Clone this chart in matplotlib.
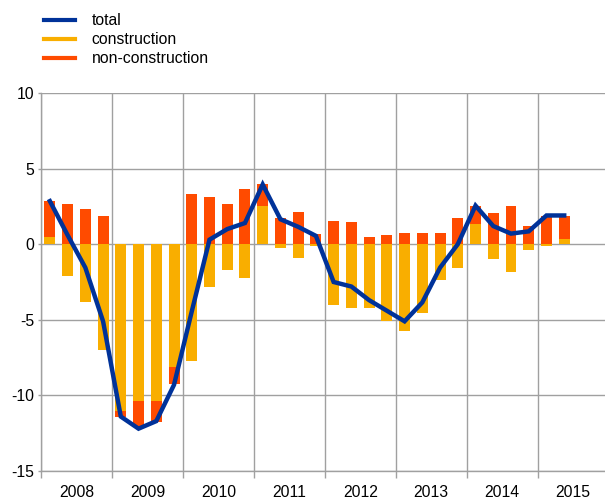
import numpy as np
import matplotlib
matplotlib.use("Agg")
import matplotlib.pyplot as plt
from matplotlib.lines import Line2D

plt.rcParams['font.family'] = ['Liberation Sans', 'DejaVu Sans']

years = ['2008', '2009', '2010', '2011', '2012', '2013', '2014', '2015']
construction = [0.5, -2.1, -3.85, -7.0, -11.05, -10.4, -10.4, -8.15,
                -7.75, -2.8, -1.7, -2.25, 2.5, -0.25, -0.9, -0.15,
                -4.0, -4.2, -4.2, -5.1, -5.75, -4.55, -2.35, -1.6,
                1.35, -0.95, -1.85, -0.4, -0.15, 0.35]
non_construction = [2.35, 2.65, 2.3, 1.85, -0.4, -1.7, -1.35, -1.1,
                    3.3, 3.15, 2.65, 3.65, 1.5, 1.75, 2.1, 0.65,
                    1.55, 1.45, 0.45, 0.6, 0.75, 0.75, 0.75, 1.75,
                    1.2, 2.05, 2.55, 1.2, 1.85, 1.5]
total = [2.85, 0.6, -1.55, -5.1, -11.4, -12.2, -11.7, -9.3,
         -4.45, 0.3, 1.0, 1.4, 3.95, 1.65, 1.15, 0.55,
         -2.5, -2.8, -3.7, -4.4, -5.1, -3.85, -1.55, 0.0,
         2.55, 1.2, 0.7, 0.85, 1.9, 1.9]

C_TOTAL = '#003299'
C_CON = '#F9AE00'
C_NON = '#FF4B00'
GRID = '#a0a0a0'
FS = 11.3

con = np.array(construction)
non = np.array(non_construction)
x = np.arange(len(con)) + 0.5
non_bottom = np.where(np.sign(non) == np.sign(con), con, 0.0)

fig = plt.figure(figsize=(6.05, 4.99), dpi=100)
ax = fig.add_axes([41 / 605, 28 / 499, 564 / 605, 378 / 499])

ax.bar(x, con, width=0.62, color=C_CON, zorder=2, linewidth=0)
ax.bar(x, non, width=0.62, bottom=non_bottom, color=C_NON, zorder=2, linewidth=0)
ax.plot(x, total, color=C_TOTAL, linewidth=3.2, zorder=3, solid_joinstyle='miter')

ax.set_xlim(0, 31.8)
ax.set_ylim(-15, 10)
ax.set_yticks([-15, -10, -5, 0, 5, 10])
ax.set_yticklabels(['-15', '-10', '-5', '0', '5', '10'], fontsize=FS)

year_bounds = np.arange(0, 32, 4)
ax.set_xticks(year_bounds)
ax.set_xticklabels([])
ax.set_xticks(year_bounds + 2, minor=True)
ax.set_xticklabels(years, minor=True, fontsize=FS)
ax.tick_params(axis='x', which='major', length=5, color=GRID, width=1)
ax.tick_params(axis='x', which='minor', length=0, pad=10)
ax.tick_params(axis='y', length=2, color=GRID, width=1, pad=3)

ax.grid(True, axis='both', which='major', color=GRID, linewidth=1, zorder=0)
ax.set_axisbelow(True)
for s in ['top', 'right']:
    ax.spines[s].set_visible(False)
for s in ['left', 'bottom']:
    ax.spines[s].set_color(GRID)
    ax.spines[s].set_linewidth(1)

handles = [Line2D([], [], color=C_TOTAL, lw=3),
           Line2D([], [], color=C_CON, lw=3),
           Line2D([], [], color=C_NON, lw=3)]
fig.legend(handles, ['total', 'construction', 'non-construction'],
           loc='upper left', bbox_to_anchor=(44 / 605, 1 - 13 / 499),
           frameon=False, fontsize=FS, handlelength=2.0, handletextpad=1.05,
           labelspacing=0.26, borderpad=0, borderaxespad=0)

fig.savefig('out.png', dpi=100)
